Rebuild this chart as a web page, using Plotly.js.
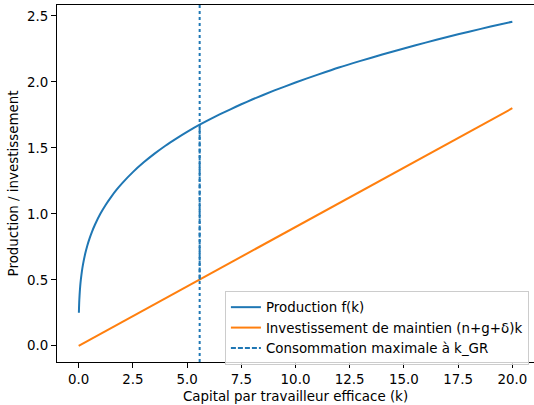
<!DOCTYPE html>
<html>
<head>
<meta charset="utf-8">
<script src="https://cdn.plot.ly/plotly-3.0.1.min.js"></script>
<style>html,body{margin:0;padding:0;background:#fff;}#chart{width:534px;height:405px;}</style>
</head>
<body>
<div id="chart"></div>
<script>
// Production curve f(k)
const kValues = [0.01, 0.015, 0.02, 0.03, 0.05, 0.07, 0.1, 0.15, 0.2, 0.3, 0.4, 0.5, 0.6, 0.75, 1, 1.25, 1.5, 1.75, 2, 2.5, 3, 3.5, 4, 4.5, 5, 5.58, 6, 6.5, 7, 7.5, 8, 9, 10, 11, 12, 13, 14, 15, 16, 17, 18, 19, 20];
const fValues = [0.251, 0.284, 0.309, 0.349, 0.407, 0.450, 0.501, 0.566, 0.617, 0.697, 0.760, 0.812, 0.858, 0.917, 1.0, 1.069, 1.129, 1.183, 1.231, 1.316, 1.390, 1.456, 1.516, 1.570, 1.621, 1.675, 1.712, 1.753, 1.792, 1.830, 1.866, 1.933, 1.995, 2.053, 2.109, 2.159, 2.207, 2.253, 2.297, 2.340, 2.380, 2.419, 2.456];
// Break-even investment line (n+g+δ)k
const kLine = [0, 20];
const invValues = [0, 1.8];
// Golden-rule capital and the consumption segment
const kGR = 5.58;
const consX = [kGR, kGR];
const consY = [0.502, 1.675];
const xTicks = [0, 2.5, 5, 7.5, 10, 12.5, 15, 17.5, 20];
const yTicks = [0, 0.5, 1, 1.5, 2, 2.5];

const blue = '#1f77b4', orange = '#ff7f0e';
const fs = 13.4;
const fnt = {family: 'DejaVu Sans', size: fs, color: '#000'};
const traces = [
  {x: kValues, y: fValues, type: 'scatter', mode: 'lines', name: 'Production f(k)', line: {color: blue, width: 2, shape: 'spline', smoothing: 0.6}},
  {x: kLine, y: invValues, type: 'scatter', mode: 'lines', name: 'Investissement de maintien (n+g+δ)k', line: {color: orange, width: 2}},
  {x: consX, y: consY, type: 'scatter', mode: 'lines', name: 'Consommation maximale à k_GR', line: {color: blue, width: 2, dash: '5px,2px'}}
];
const axisCommon = {
  showgrid: false, zeroline: false, showline: true, linecolor: '#000', linewidth: 1, mirror: true,
  ticks: 'outside', ticklen: 5, tickwidth: 1, tickcolor: '#000',
  tickfont: fnt, tickformat: '.1f'
};
const layout = {
  width: 534, height: 405,
  margin: {l: 57, r: 0, t: 5, b: 43},
  paper_bgcolor: '#fff', plot_bgcolor: '#fff',
  font: fnt,
  showlegend: true,
  legend: {x: 0.352, y: 0.199, xanchor: 'left', yanchor: 'top', bgcolor: 'rgba(255,255,255,0.8)', bordercolor: '#ccc', borderwidth: 1,
    font: fnt, tracegroupgap: 0, itemwidth: 30},
  xaxis: Object.assign({}, axisCommon, {range: [-0.9995, 20.9995], tickvals: xTicks,
    title: {text: 'Capital par travailleur efficace (k)', font: fnt, standoff: 5}}),
  yaxis: Object.assign({}, axisCommon, {range: [-0.1228, 2.5823], tickvals: yTicks,
    title: {text: 'Production / investissement', font: fnt, standoff: 5}}),
  shapes: [{type: 'line', xref: 'x', yref: 'paper', x0: kGR, x1: kGR, y0: 0, y1: 1, line: {color: blue, width: 2, dash: 'dot'}}]
};
Plotly.newPlot('chart', traces, layout, {displayModeBar: false, staticPlot: true});
</script>
</body>
</html>
